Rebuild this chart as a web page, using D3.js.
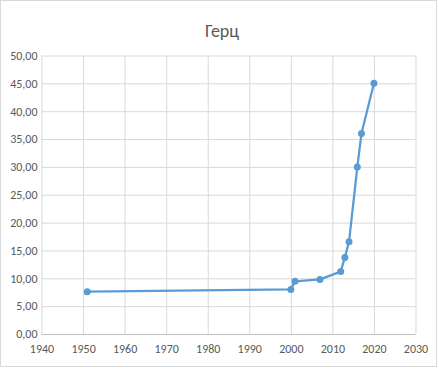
<!DOCTYPE html>
<html><head><meta charset="utf-8">
<script src="https://cdn.jsdelivr.net/npm/d3@7"></script>
<style>body{margin:0;background:#fff}svg{display:block}</style>
</head><body>
<script>
const years = [1951, 2000, 2001, 2007, 2012, 2013, 2014, 2016, 2017, 2020];
const values = [7.6, 8.0, 9.45, 9.8, 11.2, 13.75, 16.55, 30, 36, 45];
const xTicks = [1940, 1950, 1960, 1970, 1980, 1990, 2000, 2010, 2020, 2030];
const yTicks = [0, 5, 10, 15, 20, 25, 30, 35, 40, 45, 50];
const title = "Герц";

const W = 439, H = 369;
const svg = d3.select("body").append("svg").attr("width", W).attr("height", H);
svg.append("rect").attr("x", 0.5).attr("y", 0.5).attr("width", W - 3).attr("height", H - 3)
  .attr("fill", "#fff").attr("stroke", "#d9d9d9");

const x = d3.scaleLinear().domain([1940, 2030]).range([41.5, 415.5]);
const y = d3.scaleLinear().domain([0, 50]).range([334, 55.5]);
const font = "Calibri, Carlito, 'Open Sans', sans-serif";

svg.append("text").attr("x", 222).attr("y", 37).attr("text-anchor", "middle")
  .attr("font-family", font).attr("font-size", 18).attr("fill", "#595959").text(title);

const gx = svg.append("g").attr("transform", `translate(0,${y(0)})`)
  .call(d3.axisBottom(x).tickValues(xTicks).tickSize(-(y(0) - y(50))).tickFormat(d3.format("d")).tickPadding(10));
const gy = svg.append("g").attr("transform", `translate(${x(1940)},0)`)
  .call(d3.axisLeft(y).tickValues(yTicks).tickSize(-(x(2030) - x(1940))).tickFormat(d => d.toFixed(2).replace(".", ",")).tickPadding(4));
[gx, gy].forEach(g => {
  g.select(".domain").remove();
  g.selectAll("line").attr("stroke", "#d9d9d9").attr("stroke-width", 1);
  g.selectAll("text").attr("font-family", font).attr("font-size", 12).attr("fill", "#595959");
});
gy.selectAll(".tick").filter(d => d === 0).select("line").attr("stroke", "#bfbfbf");

const data = years.map((yr, i) => ({yr, v: values[i]}));
svg.append("path").datum(data)
  .attr("d", d3.line().x(d => x(d.yr)).y(d => y(d.v)))
  .attr("fill", "none").attr("stroke", "#5b9bd5").attr("stroke-width", 2.25).attr("stroke-linejoin", "round");
svg.selectAll("circle.pt").data(data).join("circle").attr("class", "pt")
  .attr("cx", d => x(d.yr)).attr("cy", d => y(d.v)).attr("r", 3.5).attr("fill", "#5b9bd5");
</script>
</body></html>
